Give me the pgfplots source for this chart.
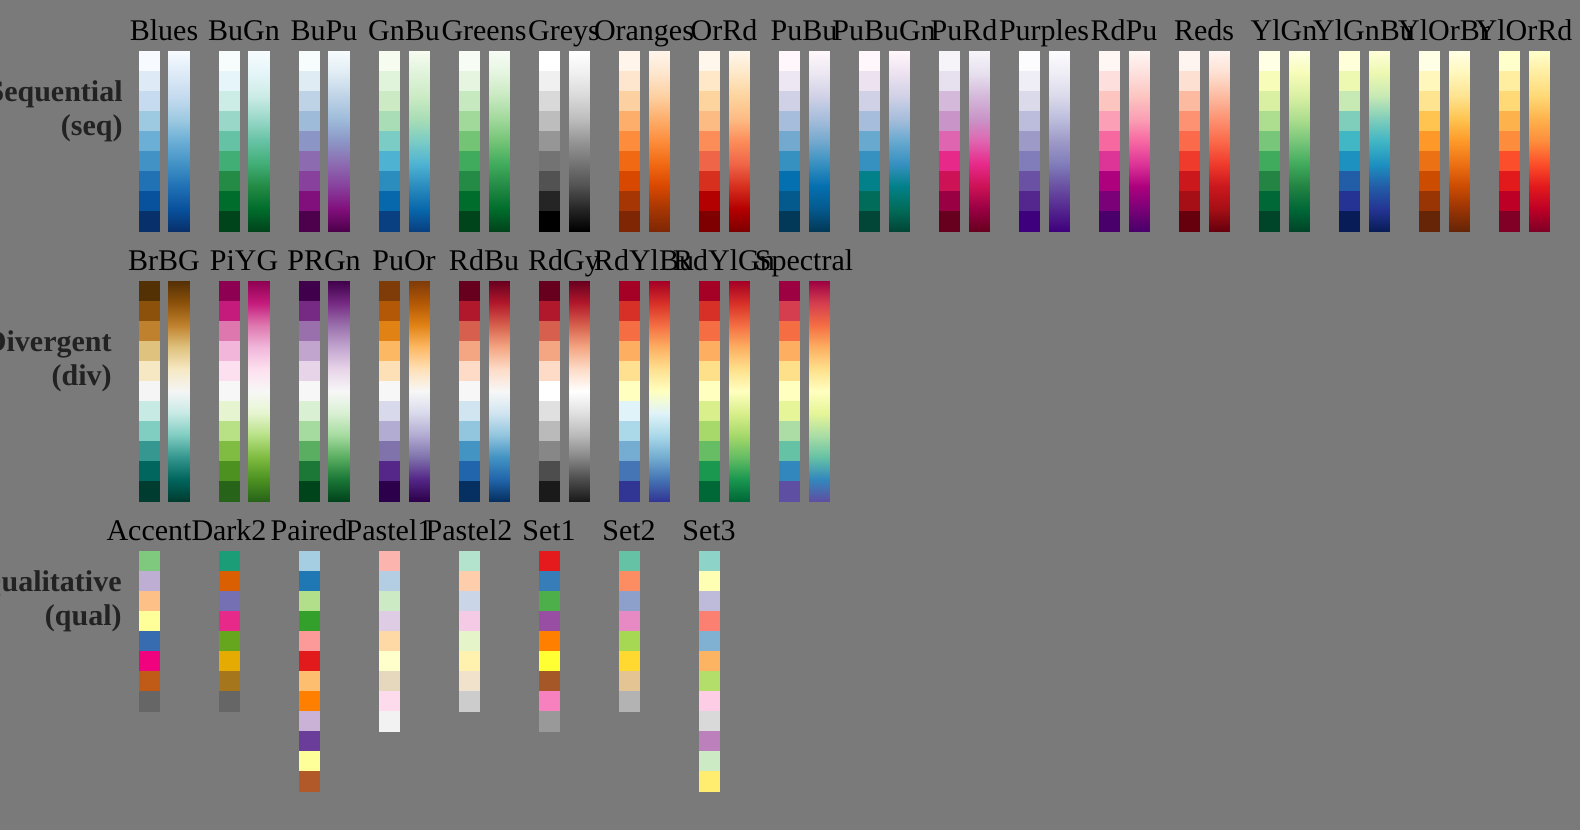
\documentclass[border=0pt]{standalone}
\usepackage{fontspec}
\setmainfont{Liberation Serif}
\usepackage{pgfplots}
\usepackage{pgfplotstable}
\pgfplotsset{compat=1.18}
\definecolor{bggray}{HTML}{7A7A7A}
\definecolor{lblgray}{HTML}{222222}
% ---------- colour palettes (ColorBrewer) ----------
\pgfplotsset{
colormap={Blues}{HTML=(F7FBFF) HTML=(DEEBF7) HTML=(C6DBEF) HTML=(9ECAE1) HTML=(6BAED6) HTML=(4292C6) HTML=(2171B5) HTML=(08519C) HTML=(08306B)},
colormap={BuGn}{HTML=(F7FCFD) HTML=(E5F5F9) HTML=(CCECE6) HTML=(99D8C9) HTML=(66C2A4) HTML=(41AE76) HTML=(238B45) HTML=(006D2C) HTML=(00441B)},
colormap={BuPu}{HTML=(F7FCFD) HTML=(E0ECF4) HTML=(BFD3E6) HTML=(9EBCDA) HTML=(8C96C6) HTML=(8C6BB1) HTML=(88419D) HTML=(810F7C) HTML=(4D004B)},
colormap={GnBu}{HTML=(F7FCF0) HTML=(E0F3DB) HTML=(CCEBC5) HTML=(A8DDB5) HTML=(7BCCC4) HTML=(4EB3D3) HTML=(2B8CBE) HTML=(0868AC) HTML=(084081)},
colormap={Greens}{HTML=(F7FCF5) HTML=(E5F5E0) HTML=(C7E9C0) HTML=(A1D99B) HTML=(74C476) HTML=(41AB5D) HTML=(238B45) HTML=(006D2C) HTML=(00441B)},
colormap={Greys}{HTML=(FFFFFF) HTML=(F0F0F0) HTML=(D9D9D9) HTML=(BDBDBD) HTML=(969696) HTML=(737373) HTML=(525252) HTML=(252525) HTML=(000000)},
colormap={Oranges}{HTML=(FFF5EB) HTML=(FEE6CE) HTML=(FDD0A2) HTML=(FDAE6B) HTML=(FD8D3C) HTML=(F16913) HTML=(D94801) HTML=(A63603) HTML=(7F2704)},
colormap={OrRd}{HTML=(FFF7EC) HTML=(FEE8C8) HTML=(FDD49E) HTML=(FDBB84) HTML=(FC8D59) HTML=(EF6548) HTML=(D7301F) HTML=(B30000) HTML=(7F0000)},
colormap={PuBu}{HTML=(FFF7FB) HTML=(ECE7F2) HTML=(D0D1E6) HTML=(A6BDDB) HTML=(74A9CF) HTML=(3690C0) HTML=(0570B0) HTML=(045A8D) HTML=(023858)},
colormap={PuBuGn}{HTML=(FFF7FB) HTML=(ECE2F0) HTML=(D0D1E6) HTML=(A6BDDB) HTML=(67A9CF) HTML=(3690C0) HTML=(02818A) HTML=(016C59) HTML=(014636)},
colormap={PuRd}{HTML=(F7F4F9) HTML=(E7E1EF) HTML=(D4B9DA) HTML=(C994C7) HTML=(DF65B0) HTML=(E7298A) HTML=(CE1256) HTML=(980043) HTML=(67001F)},
colormap={Purples}{HTML=(FCFBFD) HTML=(EFEDF5) HTML=(DADAEB) HTML=(BCBDDC) HTML=(9E9AC8) HTML=(807DBA) HTML=(6A51A3) HTML=(54278F) HTML=(3F007D)},
colormap={RdPu}{HTML=(FFF7F3) HTML=(FDE0DD) HTML=(FCC5C0) HTML=(FA9FB5) HTML=(F768A1) HTML=(DD3497) HTML=(AE017E) HTML=(7A0177) HTML=(49006A)},
colormap={Reds}{HTML=(FFF5F0) HTML=(FEE0D2) HTML=(FCBBA1) HTML=(FC9272) HTML=(FB6A4A) HTML=(EF3B2C) HTML=(CB181D) HTML=(A50F15) HTML=(67000D)},
colormap={YlGn}{HTML=(FFFFE5) HTML=(F7FCB9) HTML=(D9F0A3) HTML=(ADDD8E) HTML=(78C679) HTML=(41AB5D) HTML=(238443) HTML=(006837) HTML=(004529)},
colormap={YlGnBu}{HTML=(FFFFD9) HTML=(EDF8B1) HTML=(C7E9B4) HTML=(7FCDBB) HTML=(41B6C4) HTML=(1D91C0) HTML=(225EA8) HTML=(253494) HTML=(081D58)},
colormap={YlOrBr}{HTML=(FFFFE5) HTML=(FFF7BC) HTML=(FEE391) HTML=(FEC44F) HTML=(FE9929) HTML=(EC7014) HTML=(CC4C02) HTML=(993404) HTML=(662506)},
colormap={YlOrRd}{HTML=(FFFFCC) HTML=(FFEDA0) HTML=(FED976) HTML=(FEB24C) HTML=(FD8D3C) HTML=(FC4E2A) HTML=(E31A1C) HTML=(BD0026) HTML=(800026)},
colormap={BrBG}{HTML=(543005) HTML=(8C510A) HTML=(BF812D) HTML=(DFC27D) HTML=(F6E8C3) HTML=(F5F5F5) HTML=(C7EAE5) HTML=(80CDC1) HTML=(35978F) HTML=(01665E) HTML=(003C30)},
colormap={PiYG}{HTML=(8E0152) HTML=(C51B7D) HTML=(DE77AE) HTML=(F1B6DA) HTML=(FDE0EF) HTML=(F7F7F7) HTML=(E6F5D0) HTML=(B8E186) HTML=(7FBC41) HTML=(4D9221) HTML=(276419)},
colormap={PRGn}{HTML=(40004B) HTML=(762A83) HTML=(9970AB) HTML=(C2A5CF) HTML=(E7D4E8) HTML=(F7F7F7) HTML=(D9F0D3) HTML=(A6DBA0) HTML=(5AAE61) HTML=(1B7837) HTML=(00441B)},
colormap={PuOr}{HTML=(7F3B08) HTML=(B35806) HTML=(E08214) HTML=(FDB863) HTML=(FEE0B6) HTML=(F7F7F7) HTML=(D8DAEB) HTML=(B2ABD2) HTML=(8073AC) HTML=(542788) HTML=(2D004B)},
colormap={RdBu}{HTML=(67001F) HTML=(B2182B) HTML=(D6604D) HTML=(F4A582) HTML=(FDDBC7) HTML=(F7F7F7) HTML=(D1E5F0) HTML=(92C5DE) HTML=(4393C3) HTML=(2166AC) HTML=(053061)},
colormap={RdGy}{HTML=(67001F) HTML=(B2182B) HTML=(D6604D) HTML=(F4A582) HTML=(FDDBC7) HTML=(FFFFFF) HTML=(E0E0E0) HTML=(BABABA) HTML=(878787) HTML=(4D4D4D) HTML=(1A1A1A)},
colormap={RdYlBu}{HTML=(A50026) HTML=(D73027) HTML=(F46D43) HTML=(FDAE61) HTML=(FEE090) HTML=(FFFFBF) HTML=(E0F3F8) HTML=(ABD9E9) HTML=(74ADD1) HTML=(4575B4) HTML=(313695)},
colormap={RdYlGn}{HTML=(A50026) HTML=(D73027) HTML=(F46D43) HTML=(FDAE61) HTML=(FEE08B) HTML=(FFFFBF) HTML=(D9EF8B) HTML=(A6D96A) HTML=(66BD63) HTML=(1A9850) HTML=(006837)},
colormap={Spectral}{HTML=(9E0142) HTML=(D53E4F) HTML=(F46D43) HTML=(FDAE61) HTML=(FEE08B) HTML=(FFFFBF) HTML=(E6F598) HTML=(ABDDA4) HTML=(66C2A5) HTML=(3288BD) HTML=(5E4FA2)},
colormap={Accent}{HTML=(7FC97F) HTML=(BEAED4) HTML=(FDC086) HTML=(FFFF99) HTML=(386CB0) HTML=(F0027F) HTML=(BF5B17) HTML=(666666)},
colormap={Dark2}{HTML=(1B9E77) HTML=(D95F02) HTML=(7570B3) HTML=(E7298A) HTML=(66A61E) HTML=(E6AB02) HTML=(A6761D) HTML=(666666)},
colormap={Paired}{HTML=(A6CEE3) HTML=(1F78B4) HTML=(B2DF8A) HTML=(33A02C) HTML=(FB9A99) HTML=(E31A1C) HTML=(FDBF6F) HTML=(FF7F00) HTML=(CAB2D6) HTML=(6A3D9A) HTML=(FFFF99) HTML=(B15928)},
colormap={Pastel1}{HTML=(FBB4AE) HTML=(B3CDE3) HTML=(CCEBC5) HTML=(DECBE4) HTML=(FED9A6) HTML=(FFFFCC) HTML=(E5D8BD) HTML=(FDDAEC) HTML=(F2F2F2)},
colormap={Pastel2}{HTML=(B3E2CD) HTML=(FDCDAC) HTML=(CBD5E8) HTML=(F4CAE4) HTML=(E6F5C9) HTML=(FFF2AE) HTML=(F1E2CC) HTML=(CCCCCC)},
colormap={Set1}{HTML=(E41A1C) HTML=(377EB8) HTML=(4DAF4A) HTML=(984EA3) HTML=(FF7F00) HTML=(FFFF33) HTML=(A65628) HTML=(F781BF) HTML=(999999)},
colormap={Set2}{HTML=(66C2A5) HTML=(FC8D62) HTML=(8DA0CB) HTML=(E78AC3) HTML=(A6D854) HTML=(FFD92F) HTML=(E5C494) HTML=(B3B3B3)},
colormap={Set3}{HTML=(8DD3C7) HTML=(FFFFB3) HTML=(BEBADA) HTML=(FB8072) HTML=(80B1D3) HTML=(FDB462) HTML=(B3DE69) HTML=(FCCDE5) HTML=(D9D9D9) HTML=(BC80BD) HTML=(CCEBC5) HTML=(FFED6F)},
}
% ---------- cell tables: y centre, colour position ----------
\pgfplotstableread{
y c
61 0
81 0.125
101 0.25
121 0.375
141 0.5
161 0.625
181 0.75
201 0.875
221 1
}\seqcells
\pgfplotstableread{
y c
291 0
311 0.1
331 0.2
351 0.3
371 0.4
391 0.5
411 0.6
431 0.7
451 0.8
471 0.9
491 1
}\divcells
\pgfplotstableread{
y c
561 0
581 0.142857
601 0.285714
621 0.428571
641 0.571429
661 0.714286
681 0.857143
701 1
}\qualeight
\pgfplotstableread{
y c
561 0
581 0.125
601 0.25
621 0.375
641 0.5
661 0.625
681 0.75
701 0.875
721 1
}\qualnine
\pgfplotstableread{
y c
561 0
581 0.090909
601 0.181818
621 0.272727
641 0.363636
661 0.454545
681 0.545455
701 0.636364
721 0.727273
741 0.818182
761 0.909091
781 1
}\qualtwelve
% ---------- gradient bars ----------
\pgfplotstableread{
dx y c
29.5 51 0
50 51 0
29.5 73.5 0.125
50 73.5 0.125
29.5 96 0.25
50 96 0.25
29.5 118.5 0.375
50 118.5 0.375
29.5 141 0.5
50 141 0.5
29.5 163.5 0.625
50 163.5 0.625
29.5 186 0.75
50 186 0.75
29.5 208.5 0.875
50 208.5 0.875
29.5 231 1
50 231 1
}\seqgrad
\pgfplotstableread{
dx y c
29.5 281 0
50 281 0
29.5 303 0.1
50 303 0.1
29.5 325 0.2
50 325 0.2
29.5 347 0.3
50 347 0.3
29.5 369 0.4
50 369 0.4
29.5 391 0.5
50 391 0.5
29.5 413 0.6
50 413 0.6
29.5 435 0.7
50 435 0.7
29.5 457 0.8
50 457 0.8
29.5 479 0.9
50 479 0.9
29.5 501 1
50 501 1
}\divgrad
\pgfplotsset{
  swatch/.style={scatter, only marks, mark=square*, mark size=5pt,
    point meta=explicit,
    scatter/use mapped color={draw=mapped color, fill=mapped color},
    mark options={line width=0.2pt}},
  gradbar/.style={surf, shader=interp, mesh/cols=2, point meta=explicit},
}
\tikzset{
  ttl/.style={anchor=base, inner sep=0pt, font=\fontsize{15}{18}\selectfont, text=black},
  lbl/.style={anchor=base east, inner sep=0pt, font=\fontsize{15}{18}\selectfont\bfseries, text=lblgray},
}
\newcommand{\palcells}[3]{\addplot[swatch, colormap name=#1] table[x expr=#2+10, y=y, meta=c] {#3};}
\newcommand{\palgrad}[3]{\addplot[gradbar, colormap name=#1] table[x expr=\thisrow{dx}+#2, y=y, meta=c] {#3};}
\newcommand{\seqpal}[2]{\palcells{#1}{#2}{\seqcells}\palgrad{#1}{#2}{\seqgrad}}
\newcommand{\divpal}[2]{\palcells{#1}{#2}{\divcells}\palgrad{#1}{#2}{\divgrad}}
\begin{document}
\begin{tikzpicture}
\fill[bggray] (0,0) rectangle (790pt,415pt);
\begin{scope}
\clip (0,0) rectangle (790pt,415pt);
\begin{axis}[
  at={(0,0)}, anchor=south west,
  scale only axis, width=790pt, height=415pt,
  xmin=0, xmax=1580, ymin=0, ymax=830, y dir=reverse,
  hide axis, clip=false,
  point meta min=0, point meta max=1,
]
% Sequential
\seqpal{Blues}{139}
\seqpal{BuGn}{219}
\seqpal{BuPu}{299}
\seqpal{GnBu}{379}
\seqpal{Greens}{459}
\seqpal{Greys}{539}
\seqpal{Oranges}{619}
\seqpal{OrRd}{699}
\seqpal{PuBu}{779}
\seqpal{PuBuGn}{859}
\seqpal{PuRd}{939}
\seqpal{Purples}{1019}
\seqpal{RdPu}{1099}
\seqpal{Reds}{1179}
\seqpal{YlGn}{1259}
\seqpal{YlGnBu}{1339}
\seqpal{YlOrBr}{1419}
\seqpal{YlOrRd}{1499}
% Divergent
\divpal{BrBG}{139}
\divpal{PiYG}{219}
\divpal{PRGn}{299}
\divpal{PuOr}{379}
\divpal{RdBu}{459}
\divpal{RdGy}{539}
\divpal{RdYlBu}{619}
\divpal{RdYlGn}{699}
\divpal{Spectral}{779}
% Qualitative
\palcells{Accent}{139}{\qualeight}
\palcells{Dark2}{219}{\qualeight}
\palcells{Paired}{299}{\qualtwelve}
\palcells{Pastel1}{379}{\qualnine}
\palcells{Pastel2}{459}{\qualeight}
\palcells{Set1}{539}{\qualnine}
\palcells{Set2}{619}{\qualeight}
\palcells{Set3}{699}{\qualtwelve}
% titles
\node[ttl] at (axis cs:164,40.7) {Blues};
\node[ttl] at (axis cs:244,40.7) {BuGn};
\node[ttl] at (axis cs:324,40.7) {BuPu};
\node[ttl] at (axis cs:404,40.7) {GnBu};
\node[ttl] at (axis cs:484,40.7) {Greens};
\node[ttl] at (axis cs:564,40.7) {Greys};
\node[ttl] at (axis cs:644,40.7) {Oranges};
\node[ttl] at (axis cs:724,40.7) {OrRd};
\node[ttl] at (axis cs:804,40.7) {PuBu};
\node[ttl] at (axis cs:884,40.7) {PuBuGn};
\node[ttl] at (axis cs:964,40.7) {PuRd};
\node[ttl] at (axis cs:1044,40.7) {Purples};
\node[ttl] at (axis cs:1124,40.7) {RdPu};
\node[ttl] at (axis cs:1204,40.7) {Reds};
\node[ttl] at (axis cs:1284,40.7) {YlGn};
\node[ttl] at (axis cs:1364,40.7) {YlGnBu};
\node[ttl] at (axis cs:1444,40.7) {YlOrBr};
\node[ttl] at (axis cs:1524,40.7) {YlOrRd};
\node[ttl] at (axis cs:164,270.7) {BrBG};
\node[ttl] at (axis cs:244,270.7) {PiYG};
\node[ttl] at (axis cs:324,270.7) {PRGn};
\node[ttl] at (axis cs:404,270.7) {PuOr};
\node[ttl] at (axis cs:484,270.7) {RdBu};
\node[ttl] at (axis cs:564,270.7) {RdGy};
\node[ttl] at (axis cs:644,270.7) {RdYlBu};
\node[ttl] at (axis cs:724,270.7) {RdYlGn};
\node[ttl] at (axis cs:804,270.7) {Spectral};
\node[ttl] at (axis cs:149,540.7) {Accent};
\node[ttl] at (axis cs:229,540.7) {Dark2};
\node[ttl] at (axis cs:309,540.7) {Paired};
\node[ttl] at (axis cs:389,540.7) {Pastel1};
\node[ttl] at (axis cs:469,540.7) {Pastel2};
\node[ttl] at (axis cs:549,540.7) {Set1};
\node[ttl] at (axis cs:629,540.7) {Set2};
\node[ttl] at (axis cs:709,540.7) {Set3};
% row labels
\node[lbl] at (axis cs:123,101.7) {Sequential};
\node[lbl] at (axis cs:123,135) {(seq)};
\node[lbl] at (axis cs:112,351.7) {Divergent};
\node[lbl] at (axis cs:112,385) {(div)};
\node[lbl] at (axis cs:122,591.7) {Qualitative};
\node[lbl] at (axis cs:122,625) {(qual)};
\end{axis}
\end{scope}
\pgfresetboundingbox
\path[use as bounding box] (0,0) rectangle (790pt,415pt);
\end{tikzpicture}
\end{document}
